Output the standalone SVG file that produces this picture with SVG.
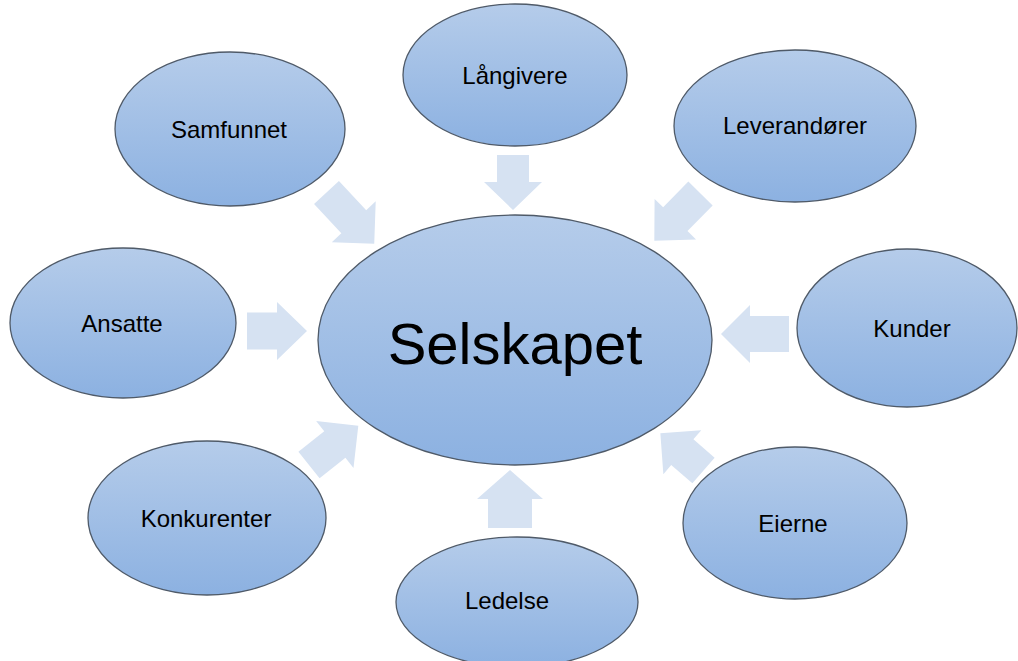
<svg xmlns="http://www.w3.org/2000/svg" width="1018" height="661" viewBox="0 0 1018 661">
<defs>
<linearGradient id="eg" x1="0" y1="0" x2="0" y2="1">
<stop offset="0" stop-color="#b5ccea"/>
<stop offset="1" stop-color="#8cb1e1"/>
</linearGradient>
<style>
.n{fill:url(#eg);stroke:#4f5a68;stroke-width:1.3}
.t{font-family:"Liberation Sans",Arial,sans-serif;font-size:24px;fill:#000;text-anchor:middle}
.big{font-size:58px}
.arr{fill:#d6e2f2}
</style>
</defs>
<rect width="1018" height="661" fill="#fff"/>
<g id="connectors">
<path class="arr" transform="translate(326.5,192.5) rotate(47)" d="M0,-17 H40 V-30 L70,0 L40,30 V17 H0 Z"/>
<path class="arr" transform="translate(513,155) rotate(90)" d="M0,-16 H27 V-29 L55,0 L27,29 V16 H0 Z"/>
<path class="arr" transform="translate(700.5,193.5) rotate(134.4)" d="M0,-17 H36 V-29 L66,0 L36,29 V17 H0 Z"/>
<path class="arr" transform="translate(247,331) rotate(0)" d="M0,-18.5 H30 V-29 L60,0 L30,29 V18.5 H0 Z"/>
<path class="arr" transform="translate(789,334) rotate(180)" d="M0,-18 H39 V-29 L68,0 L39,29 V18 H0 Z"/>
<path class="arr" transform="translate(309,465) rotate(-38.5)" d="M0,-17 H33 V-30 L63,0 L33,30 V17 H0 Z"/>
<path class="arr" transform="translate(510,528) rotate(-90)" d="M0,-22 H29 V-33 L58,0 L29,33 V22 H0 Z"/>
<path class="arr" transform="translate(703.5,470.5) rotate(-139.2)" d="M0,-17 H28 V-29 L57,0 L28,29 V17 H0 Z"/>
</g>
<g id="selskapet"><ellipse class="n" cx="515" cy="340" rx="197" ry="125"/><text class="t big" x="515" y="364">Selskapet</text></g>
<g id="samfunnet"><ellipse class="n" cx="230" cy="129" rx="115" ry="77"/><text class="t" x="229" y="138">Samfunnet</text></g>
<g id="langivere"><ellipse class="n" cx="515" cy="75" rx="112" ry="71"/><text class="t" x="515" y="84">Långivere</text></g>
<g id="leverandorer"><ellipse class="n" cx="795" cy="126" rx="121" ry="76"/><text class="t" x="795" y="134">Leverandører</text></g>
<g id="ansatte"><ellipse class="n" cx="123" cy="323" rx="113" ry="75"/><text class="t" x="122" y="332">Ansatte</text></g>
<g id="kunder"><ellipse class="n" cx="907" cy="328" rx="110" ry="79"/><text class="t" x="912" y="337">Kunder</text></g>
<g id="konkurenter"><ellipse class="n" cx="207" cy="518" rx="119" ry="77"/><text class="t" x="206" y="527">Konkurenter</text></g>
<g id="ledelse"><ellipse class="n" cx="517" cy="602" rx="121" ry="65"/><text class="t" x="507" y="609">Ledelse</text></g>
<g id="eierne"><ellipse class="n" cx="795" cy="523" rx="112" ry="76"/><text class="t" x="793" y="532">Eierne</text></g>
</svg>
